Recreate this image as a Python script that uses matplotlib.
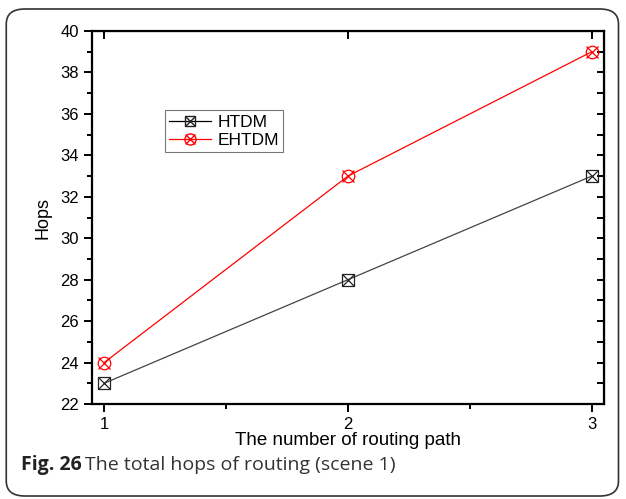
import numpy as np
import matplotlib
matplotlib.use("Agg")
import matplotlib.pyplot as plt
from matplotlib.patches import FancyBboxPatch
from matplotlib.lines import Line2D

plt.rcParams['font.family'] = ['Liberation Sans', 'DejaVu Sans']

paths = [1, 2, 3]
htdm = [23, 28, 33]
ehtdm = [24, 33, 39]

fig = plt.figure(figsize=(6.26, 4.99), dpi=100)

# frame round the figure
frame = FancyBboxPatch((0.010, 0.006), 0.978, 0.976,
                       boxstyle="round,pad=0,rounding_size=0.03",
                       transform=fig.transFigure, facecolor="white",
                       edgecolor="#333333", linewidth=1.2, zorder=-5)
fig.patches.append(frame)

ax = fig.add_axes([92 / 626, 1 - 404 / 499, 512 / 626, 373 / 499])
ax.set_facecolor("none")

ax.plot(paths, htdm, color="#444444", linewidth=0.9, marker="s",
        markersize=8, markerfacecolor="none", markeredgecolor="#222222",
        markeredgewidth=0.9)
ax.plot(paths, htdm, linestyle="none", marker="x", markersize=8,
        color="#222222", markeredgewidth=0.9)
ax.plot(paths, ehtdm, color="red", linewidth=0.9, marker="o",
        markersize=9, markerfacecolor="none", markeredgecolor="red",
        markeredgewidth=0.9)
ax.plot(paths, ehtdm, linestyle="none", marker="x", markersize=8,
        color="red", markeredgewidth=0.9)

# legend handles with combined markers
h1 = (Line2D([], [], color="black", linewidth=0.9, marker="s", markersize=7,
             markerfacecolor="none", markeredgecolor="#222222"),
      Line2D([], [], linestyle="none", marker="x", markersize=7, color="#222222"))
h2 = (Line2D([], [], color="red", linewidth=0.9, marker="o", markersize=8,
             markerfacecolor="none", markeredgecolor="red"),
      Line2D([], [], linestyle="none", marker="x", markersize=7, color="red"))
leg = ax.legend([h1, h2], ["HTDM", "EHTDM"], loc="upper left",
                bbox_to_anchor=(0.142, 0.787), fontsize=12.5, frameon=True,
                fancybox=False, edgecolor="#555555", borderpad=0.25,
                handlelength=2.4, handletextpad=0.4, labelspacing=0.15,
                borderaxespad=0)
leg.get_frame().set_linewidth(0.8)

ax.set_xlim(0.95, 3.05)
ax.set_ylim(22, 40)
ax.set_xticks([1, 2, 3])
ax.set_xticks([1.5, 2.5], minor=True)
ax.set_yticks(np.arange(22, 41, 2))
ax.set_yticks(np.arange(23, 40, 2), minor=True)

for s in ax.spines.values():
    s.set_linewidth(1.6)

ax.tick_params(axis="both", which="major", direction="out", length=6,
               width=1.4, labelsize=12)
ax.tick_params(axis="both", which="minor", direction="out", length=3.5,
               width=1.4)
ax.tick_params(axis="both", which="both", top=False, right=False)

# inward ticks on the top and right edges
top = ax.secondary_xaxis("top")
top.set_xticks([1, 2, 3])
top.tick_params(direction="in", length=6, width=1.4, labeltop=False)
right = ax.secondary_yaxis("right")
right.set_yticks(np.arange(22, 41, 1))
right.tick_params(direction="in", length=5, width=1.4, labelright=False)

ax.set_xlabel("The number of routing path", fontsize=13.5, labelpad=0)
ax.set_ylabel("Hops", fontsize=13, labelpad=6)

t1 = fig.text(0.033, 0.058, "Fig. 26", fontsize=14, fontweight="bold",
              family=["Open Sans", "DejaVu Sans"], color="#222222")
fig.canvas.draw()
bb = t1.get_window_extent()
fig.text((bb.x1 + 4) / fig.bbox.width, 0.058,
         "The total hops of routing (scene 1)", fontsize=14,
         family=["Open Sans", "DejaVu Sans"], color="#333333")

fig.savefig("out.png", dpi=100)
